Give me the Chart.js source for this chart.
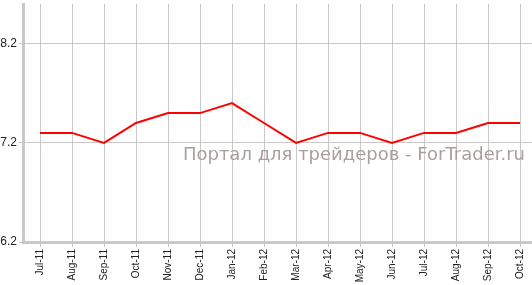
<!DOCTYPE html>
<html>
<head>
<meta charset="utf-8">
<script src="https://cdn.jsdelivr.net/npm/chart.js@4"></script>
<style>
html,body{margin:0;padding:0;background:#fff;}
canvas{display:block;}
</style>
</head>
<body>
<canvas id="c" width="532" height="285"></canvas>
<script>
const categories = ["Jul-11","Aug-11","Sep-11","Oct-11","Nov-11","Dec-11","Jan-12","Feb-12","Mar-12","Apr-12","May-12","Jun-12","Jul-12","Aug-12","Sep-12","Oct-12"];
const seriesValues = [7.3,7.3,7.2,7.4,7.5,7.5,7.6,7.4,7.2,7.3,7.3,7.2,7.3,7.3,7.4,7.4];
const yTickLabels = [6.2, 7.2, 8.2];
const watermark = "Портал для трейдеров - ForTrader.ru";

const gridColor = "#c8c8c8";
const fontFamily = "'Liberation Sans', Arial, sans-serif";

const watermarkPlugin = {
  id: 'watermark',
  beforeDatasetsDraw(chart) {
    const ctx = chart.ctx;
    ctx.save();
    ctx.font = "18px 'DejaVu Sans', Verdana, sans-serif";
    ctx.fillStyle = "#aa9e9e";
    ctx.textAlign = "right";
    ctx.textBaseline = "alphabetic";
    ctx.fillText(watermark, 525, 160);
    ctx.restore();
  }
};

new Chart(document.getElementById('c'), {
  type: 'line',
  data: {
    datasets: [{
      data: seriesValues.map((v, i) => ({x: i, y: v})),
      borderColor: '#ff0000',
      borderWidth: 2,
      pointRadius: 0,
      tension: 0,
      fill: false
    }]
  },
  options: {
    responsive: false,
    devicePixelRatio: 1,
    animation: false,
    layout: {padding: {top: 4, right: 0, left: 0, bottom: 0}},
    plugins: {legend: {display: false}, tooltip: {enabled: false}},
    scales: {
      x: {
        type: 'linear',
        min: -0.53125,
        max: 15.375,
        afterBuildTicks(scale) { scale.ticks = categories.map((c, i) => ({value: i})); },
        afterFit(scale) { scale.height = 43; scale.paddingLeft = 0; scale.paddingRight = 0; },
        ticks: {
          autoSkip: false,
          maxRotation: 90,
          minRotation: 90,
          padding: 2,
          color: '#222',
          font: {family: fontFamily, size: 10},
          callback: (v) => categories[v]
        },
        grid: {color: gridColor, lineWidth: 1, tickLength: 5},
        border: {color: gridColor, width: 3}
      },
      y: {
        type: 'linear',
        min: 6.2,
        max: 8.6,
        afterBuildTicks(scale) { scale.ticks = yTickLabels.map(v => ({value: v})); },
        afterFit(scale) { scale.width = 23; scale.paddingTop = 0; scale.paddingBottom = 0; },
        ticks: {
          padding: 2,
          color: '#222',
          font: {family: fontFamily, size: 12},
          callback: (v) => v.toFixed(1)
        },
        grid: {color: gridColor, lineWidth: 1, tickLength: 4},
        border: {color: gridColor, width: 3}
      }
    }
  },
  plugins: [watermarkPlugin]
});
</script>
</body>
</html>
